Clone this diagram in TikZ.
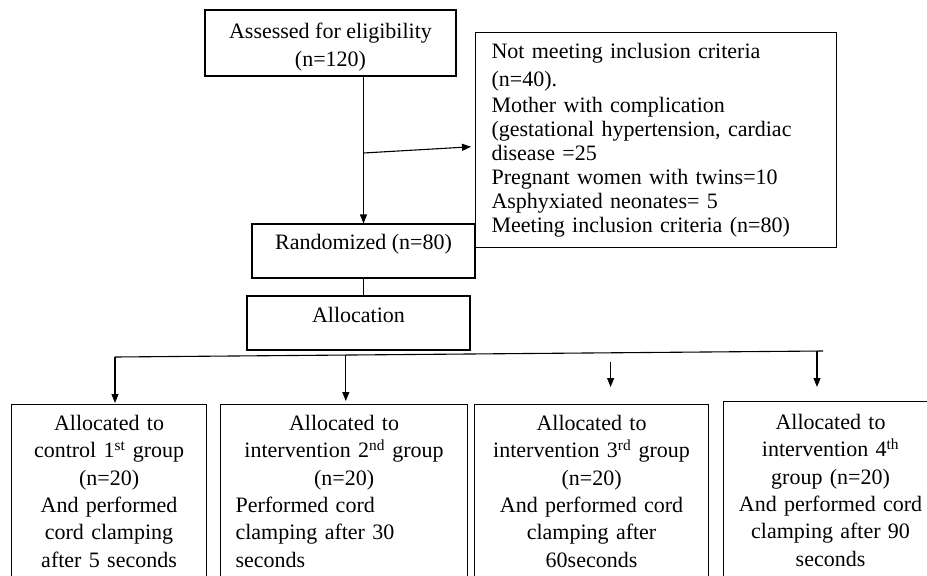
\documentclass[tikz,border=0pt]{standalone}
\usepackage{fontspec}
\setmainfont{Liberation Serif}
\usetikzlibrary{arrows.meta,positioning,calc}

\begin{document}
\begin{tikzpicture}[x=1pt, y=-1pt,
  box/.style={rectangle, draw=black, line width=1.1pt, align=center, inner sep=0pt,
              font=\fontsize{22}{27.4}\selectfont},
  grp/.style={box, anchor=north west, inner xsep=8pt, inner ysep=10.5pt},
  arr/.style={->, >={Triangle[length=9pt,width=7pt]}, line width=1.1pt},
  ln/.style={line width=1.1pt}
]
  \useasboundingbox (0,0) rectangle (927,576);
  \clip (0,0) rectangle (927,576);

  \node[box, minimum width=251pt, minimum height=66pt, text height=52pt, text depth=5pt,
        font=\fontsize{22}{28}\selectfont] (assess) at (330.5,43) {Assessed for eligibility\\(n=120)};
  \node[box, anchor=north west, align=left, text width=329pt, inner xsep=16pt, minimum height=215pt,
        font=\fontsize{22}{24}\selectfont] (excl) at (475,32)
       {Not meeting inclusion criteria\\[4pt] (n=40).\\[2pt] Mother with complication\\
        (gestational hypertension, cardiac\\ disease =25\\ Pregnant women with twins=10\\
        Asphyxiated neonates= 5\\ Meeting inclusion criteria (n=80)};
  \node[box, minimum width=223pt, minimum height=54pt, text height=14pt, text depth=18pt] (random) at (363.5,251) {Randomized (n=80)};
  \node[box, minimum width=223pt, minimum height=54pt, text height=14pt, text depth=15pt] (alloc) at (358.5,323) {Allocation};

  \node[grp, text width=179pt] (g1) at (11,404)
       {Allocated to\\ control 1\textsuperscript{st} group\\ (n=20)\\ And performed\\ cord clamping\\ after 5 seconds};
  \node[grp, text width=217pt, inner xsep=15pt] (g2) at (220,404)
       {Allocated to\\ intervention 2\textsuperscript{nd} group\\ (n=20)\par\raggedright Performed cord\\ clamping after 30\\ seconds\par};
  \node[grp, text width=218pt] (g3) at (474,404)
       {Allocated to\\ intervention 3\textsuperscript{rd} group\\ (n=20)\\ And performed cord\\ clamping after\\ 60seconds};
  \node[grp, text width=198pt, inner ysep=12.5pt] (g4) at (723,401)
       {Allocated to\\ intervention 4\textsuperscript{th}\\ group (n=20)\\ And performed cord\\ clamping after 90\\ seconds};

  \draw[arr] (assess.south -| random) -- (random.north);
  \coordinate (branch) at (363.5,153);
  \draw[arr, shorten >=4pt] (branch) -- ([yshift=-6.5pt]excl.west);
  \draw[ln] (random.south) -- (random.south |- alloc.north);

  \coordinate (splitL) at (115,357);
  \coordinate (splitR) at (823,351);
  \coordinate (tap2) at ($(splitL)!0.326!(splitR)$);
  \coordinate (tap3) at ($(splitL)!0.70!(splitR)$);
  \coordinate (tap4) at ($(splitL)!0.9915!(splitR)$);
  \draw[ln] (splitL) -- (splitR);
  \draw[arr, shorten >=1pt] (splitL) -- (splitL |- g1.north);
  \draw[arr, shorten >=3pt] (tap2) -- (tap2 |- g2.north);
  \draw[arr, shorten <=9pt, shorten >=17pt] (tap3) -- (tap3 |- g3.north);
  \draw[arr, shorten >=14pt] (tap4) -- (tap4 |- g4.north);
\end{tikzpicture}
\end{document}
